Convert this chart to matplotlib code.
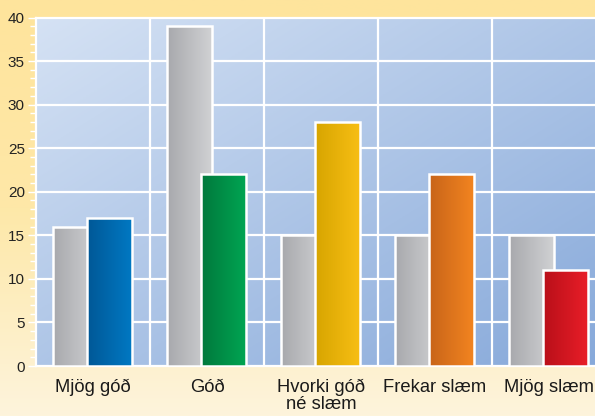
import matplotlib.pyplot as plt
import numpy as np
from matplotlib.colors import LinearSegmentedColormap

categories = ['Mjög góð', 'Góð', 'Hvorki góð\nné slæm', 'Frekar slæm', 'Mjög slæm']
gray_values = [16, 39, 15, 15, 15]
color_values = [17, 22, 28, 22, 11]
yticks = [0, 5, 10, 15, 20, 25, 30, 35, 40]

# left (dark) -> right (light) colour for each coloured bar
bar_colors = [
    ('#005896', '#0078c3'),
    ('#00783c', '#00a552'),
    ('#d7a500', '#f7be14'),
    ('#c86419', '#f28420'),
    ('#b90f19', '#e81e28'),
]
gray_colors = ('#a8a9ad', '#d0d1d3')

plt.rcParams['font.family'] = ['Liberation Sans', 'DejaVu Sans']

fig = plt.figure(figsize=(5.95, 4.16), dpi=100)

# page background, yellow at top fading to cream
bg = fig.add_axes([0, 0, 1, 1], zorder=-10)
bg_cmap = LinearSegmentedColormap.from_list('bg', ['#fdf4dc', '#fee8a8', '#fee49c'])
bg.imshow(np.linspace(0, 1, 256).reshape(-1, 1), aspect='auto', cmap=bg_cmap,
          origin='lower', extent=[0, 1, 0, 1])
bg.axis('off')

ax = fig.add_axes([36 / 595, 50 / 416, 559 / 595, 348.5 / 416])
x = np.arange(len(categories))
xmax = -0.5 + 559 / 114

# plot area gradient, light blue top left -> darker blue bottom right
gx, gy = np.meshgrid(np.linspace(0, 1, 200), np.linspace(0, 1, 200))
grad = (gx + gy) / 2
area_cmap = LinearSegmentedColormap.from_list('area', ['#d5e2f4', '#87a9da'])
ax.imshow(grad, aspect='auto', cmap=area_cmap, origin='upper',
          extent=[-0.5, xmax, 0, 40], zorder=0)

for yv in yticks:
    ax.axhline(yv, color='white', lw=1.6, zorder=1, clip_on=False)
for xv in [0.5, 1.5, 2.5, 3.5]:
    ax.axvline(xv, color='white', lw=1.6, zorder=1)


def gradient_bars(xs, vals, c0, c1, z):
    bars = ax.bar(xs, vals, width=0.39, color=c0, edgecolor='none', zorder=z)
    cm = LinearSegmentedColormap.from_list('b', [c0, c1])
    for b in bars:
        x0, w, h = b.get_x(), b.get_width(), b.get_height()
        im = ax.imshow(np.linspace(0, 1, 64).reshape(1, -1), aspect='auto', cmap=cm,
                       extent=[x0, x0 + w, 0, h], zorder=z + 0.1)
        im.set_clip_path(b)
    ax.bar(xs, vals, width=0.39, color='none', edgecolor='white', linewidth=1.8,
           zorder=z + 0.2)


gradient_bars(x - 0.155, gray_values, gray_colors[0], gray_colors[1], 2)
for i in range(len(categories)):
    gradient_bars([x[i] + 0.145], [color_values[i]], bar_colors[i][0], bar_colors[i][1], 3)

ax.set_xlim(-0.5, xmax)
ax.set_ylim(0, 40)

ax.set_yticks(yticks)
ax.set_yticks(np.arange(0, 41, 1), minor=True)
ax.tick_params(axis='y', which='major', length=6, width=1, color='white',
               labelsize=11, labelcolor='#222222', pad=2)
ax.tick_params(axis='y', which='minor', length=4.5, width=1, color='white')
ax.set_xticks(x)
ax.set_xticklabels(categories, fontsize=13.2, color='#1a1a1a', linespacing=1.05)
ax.tick_params(axis='x', length=0, pad=9)
for s in ax.spines.values():
    s.set_visible(False)
ax.spines['left'].set_visible(True)
ax.spines['left'].set_color('white')
ax.spines['left'].set_linewidth(1.6)

fig.savefig('out.png', dpi=100)
